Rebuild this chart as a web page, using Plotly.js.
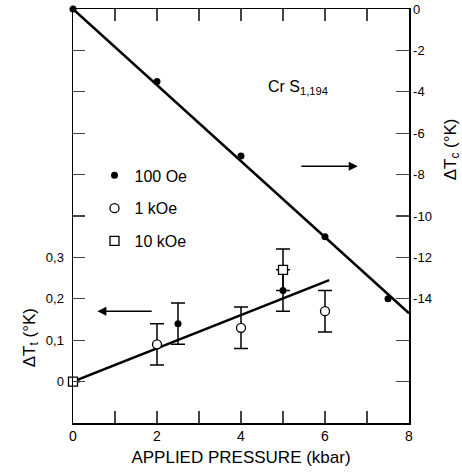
<!DOCTYPE html>
<html><head><meta charset="utf-8">
<script src="https://cdn.plot.ly/plotly-3.0.1.min.js"></script>
<style>html,body{margin:0;padding:0;background:#fff}</style>
</head><body><div id="plot" style="width:462px;height:472px"></div>
<script>
// Right axis (ΔTc) data
var tcX = [0, 2, 4, 6, 7.5];
var tcY = [0, -3.5, -7.1, -11.0, -14.0];
var tcFitX = [0, 8];
var tcFitY = [0, -14.7];
// Left axis (ΔTt) data
var oe100X = [0, 2.5, 5];
var oe100Y = [0, 0.14, 0.22];
var oe100Err = [0, 0.05, 0.05];
var koe1X = [2, 4, 6];
var koe1Y = [0.09, 0.13, 0.17];
var koe1Err = [0.05, 0.05, 0.05];
var koe10X = [0, 5];
var koe10Y = [0, 0.27];
var koe10Err = [0, 0.05];
var ttFitX = [0, 6.1];
var ttFitY = [0, 0.245];
// Tick labels
var xTickVals = [0,1,2,3,4,5,6,7,8];
var xTickText = ['0','','2','','4','','6','','8'];
var yTickVals = [0,0.1,0.2,0.3,0.4,0.5,0.6,0.7,0.8];
var yTickText = ['0','0,1','0,2','0,3','','','','',''];
var y2TickVals = [0,-2,-4,-6,-8,-10,-12,-14,-16,-18];
var y2TickText = ['0','-2','-4','-6','-8','-10','-12','-14','',''];

var F = 'Liberation Sans, Arial, sans-serif';
var traces = [
  {x: tcFitX, y: tcFitY, yaxis: 'y2', mode: 'lines', line: {color: '#000', width: 2.5}, showlegend: false, cliponaxis: false},
  {x: tcX, y: tcY, yaxis: 'y2', mode: 'markers', marker: {color: '#000', size: 7}, showlegend: false, cliponaxis: false},
  {x: ttFitX, y: ttFitY, mode: 'lines', line: {color: '#000', width: 2.5}, showlegend: false, cliponaxis: false},
  {x: oe100X, y: oe100Y, name: '100 Oe', legendgroup: 'a', mode: 'markers', cliponaxis: false,
   marker: {color: '#000', size: 7},
   error_y: {type: 'data', array: oe100Err, visible: true, color: '#000', thickness: 1.5, width: 7}},
  {x: koe1X, y: koe1Y, name: '1 kOe', legendgroup: 'b', mode: 'markers', cliponaxis: false,
   marker: {color: '#fff', size: 9, line: {color: '#000', width: 1.3}},
   error_y: {type: 'data', array: koe1Err, visible: true, color: '#000', thickness: 1.5, width: 7}},
  {x: koe10X, y: koe10Y, name: '10 kOe', legendgroup: 'c', mode: 'markers', cliponaxis: false,
   marker: {color: '#fff', size: 9, symbol: 'square', line: {color: '#000', width: 1.3}},
   error_y: {type: 'data', array: koe10Err, visible: true, color: '#000', thickness: 1.5, width: 7}}
];

var layout = {
  width: 462, height: 472,
  margin: {l: 73, r: 53, t: 9, b: 49},
  paper_bgcolor: '#fff', plot_bgcolor: '#fff',
  font: {family: F, color: '#000', size: 13},
  showlegend: true,
  legend: {x: 0.064, y: 0.639, xanchor: 'left', yanchor: 'top', bgcolor: 'rgba(0,0,0,0)',
           font: {size: 16, family: F}, traceorder: 'grouped', tracegroupgap: 9, itemsizing: 'trace'},
  xaxis: {range: [0, 8], tickvals: xTickVals, ticktext: xTickText, ticks: 'inside', ticklen: 12,
          tickwidth: 1.3, showline: true, linewidth: 1.5, linecolor: '#000', mirror: 'ticks',
          showgrid: false, zeroline: false, tickfont: {size: 14},
          title: {text: 'APPLIED PRESSURE (kbar)', font: {size: 17}, standoff: 8}},
  yaxis: {range: [-0.1, 0.9], tickvals: yTickVals, ticktext: yTickText, ticks: 'inside', ticklen: 12,
          tickwidth: 1.3, showline: true, linewidth: 1.5, linecolor: '#000', ticklabelstandoff: 5,
          showgrid: false, zeroline: false, tickfont: {size: 13}},
  yaxis2: {range: [-20, 0], overlaying: 'y', side: 'right', tickvals: y2TickVals, ticktext: y2TickText,
           ticks: 'inside', ticklen: 13, tickwidth: 1.3, showline: true, linewidth: 1.5, linecolor: '#000',
           showgrid: false, zeroline: false, tickfont: {size: 13}},
  annotations: [
    {xref: 'paper', yref: 'paper', x: -0.165, y: 0.13, text: 'ΔT<sub>t</sub> (°K)', textangle: -90,
     showarrow: false, font: {size: 17}},
    {xref: 'paper', yref: 'paper', x: 1.165, y: 0.662, text: 'ΔT<sub>c</sub> (°K)', textangle: -90,
     showarrow: false, font: {size: 17}},
    {xref: 'x', yref: 'y', x: 4.59, y: 0.711, xanchor: 'left', text: 'Cr S<sub>1,194</sub>',
     showarrow: false, font: {size: 16}},
    {xref: 'x', yref: 'y2', x: 6.78, y: -7.6, axref: 'x', ayref: 'y2', ax: 5.4, ay: -7.6, text: '',
     showarrow: true, arrowhead: 2, arrowsize: 1.2, arrowwidth: 1.5, arrowcolor: '#000'},
    {xref: 'x', yref: 'y', x: 0.58, y: 0.17, axref: 'x', ayref: 'y', ax: 1.91, ay: 0.17, text: '',
     showarrow: true, arrowhead: 2, arrowsize: 1.2, arrowwidth: 1.5, arrowcolor: '#000'}
  ]
};
Plotly.newPlot('plot', traces, layout, {displayModeBar: false, staticPlot: true});
</script></body></html>
